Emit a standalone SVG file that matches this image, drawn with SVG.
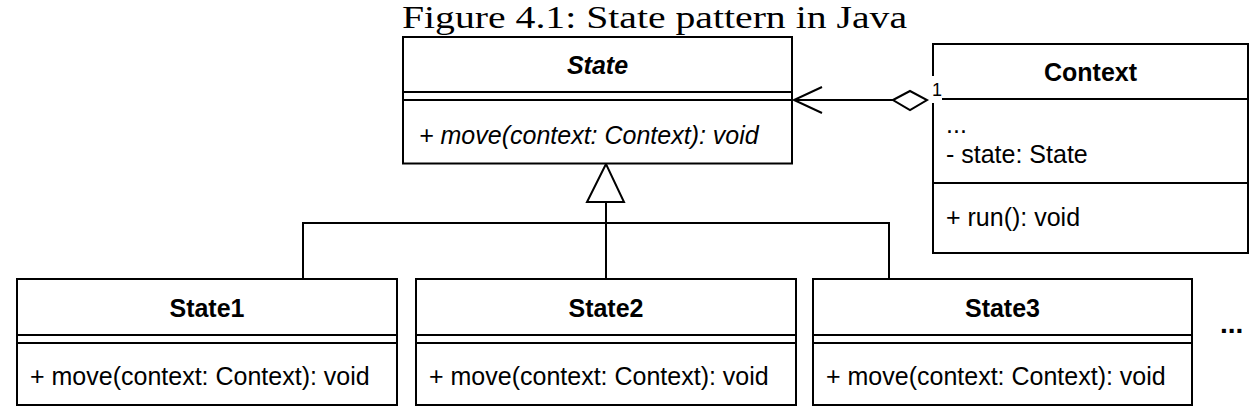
<svg xmlns="http://www.w3.org/2000/svg" width="1258" height="407" viewBox="0 0 1258 407">
<style>
.box{fill:#fff;stroke:#000;stroke-width:2}
.ln{stroke:#000;stroke-width:2;fill:none}
.t{font-family:"Liberation Sans",Arial,sans-serif;font-size:25px;fill:#000}
.b{font-weight:bold}
.i{font-style:italic}
.c{text-anchor:middle}
.m{font-family:"Liberation Sans",Arial,sans-serif;font-size:18px;fill:#000}
.title{font-family:"Liberation Serif","Times New Roman",serif;font-size:31px;fill:#000}
</style>
<rect width="1258" height="407" fill="#fff"/>
<text class="title" x="402" y="27.8" textLength="505" lengthAdjust="spacingAndGlyphs">Figure 4.1: State pattern in Java</text>

<g id="connectors">
  <path class="ln" d="M303,279 V223 H889 V279 M606,279 V202"/>
  <polygon points="606,164 587,202 624,202" fill="#fff" stroke="#000" stroke-width="2"/>
  <line class="ln" x1="795" y1="100" x2="893" y2="100"/>
  <polyline class="ln" points="822,87 794,100 822,113"/>
  <polygon points="893,100 910,91 927,100 910,110" fill="#fff" stroke="#000" stroke-width="2"/>
</g>

<g id="State">
  <rect class="box" x="403" y="37" width="389" height="126.5"/>
  <line class="ln" x1="403" y1="92" x2="792" y2="92"/>
  <line class="ln" x1="403" y1="100" x2="792" y2="100"/>
  <text class="t b i c" x="597.5" y="74">State</text>
  <text class="t i" x="419" y="144">+ move(context: Context): void</text>
</g>

<g id="Context">
  <rect class="box" x="933" y="44" width="315" height="209"/>
  <line class="ln" x1="933" y1="99" x2="1248" y2="99"/>
  <line class="ln" x1="933" y1="183" x2="1248" y2="183"/>
  <text class="t b c" x="1090.5" y="81">Context</text>
  <text class="t" x="946" y="133">...</text>
  <text class="t" x="946" y="163">- state: State</text>
  <text class="t" x="946" y="226">+ run(): void</text>
</g>

<g id="multiplicity">
  <rect x="929" y="76" width="13" height="27" fill="#fff"/>
  <text class="m" x="932" y="96">1</text>
</g>

<g id="State1">
  <rect class="box" x="17" y="279" width="380" height="126"/>
  <line class="ln" x1="17" y1="335" x2="397" y2="335"/>
  <line class="ln" x1="17" y1="343" x2="397" y2="343"/>
  <text class="t b c" x="207" y="317">State1</text>
  <text class="t" x="30" y="385">+ move(context: Context): void</text>
</g>

<g id="State2">
  <rect class="box" x="416" y="279" width="380" height="126"/>
  <line class="ln" x1="416" y1="335" x2="796" y2="335"/>
  <line class="ln" x1="416" y1="343" x2="796" y2="343"/>
  <text class="t b c" x="606" y="317">State2</text>
  <text class="t" x="429" y="385">+ move(context: Context): void</text>
</g>

<g id="State3">
  <rect class="box" x="813" y="279" width="379" height="126"/>
  <line class="ln" x1="813" y1="335" x2="1192" y2="335"/>
  <line class="ln" x1="813" y1="343" x2="1192" y2="343"/>
  <text class="t b c" x="1002.5" y="317">State3</text>
  <text class="t" x="826" y="385">+ move(context: Context): void</text>
</g>

<g id="more">
  <text class="t b" style="font-size:28px" x="1220" y="333">...</text>
</g>
</svg>
